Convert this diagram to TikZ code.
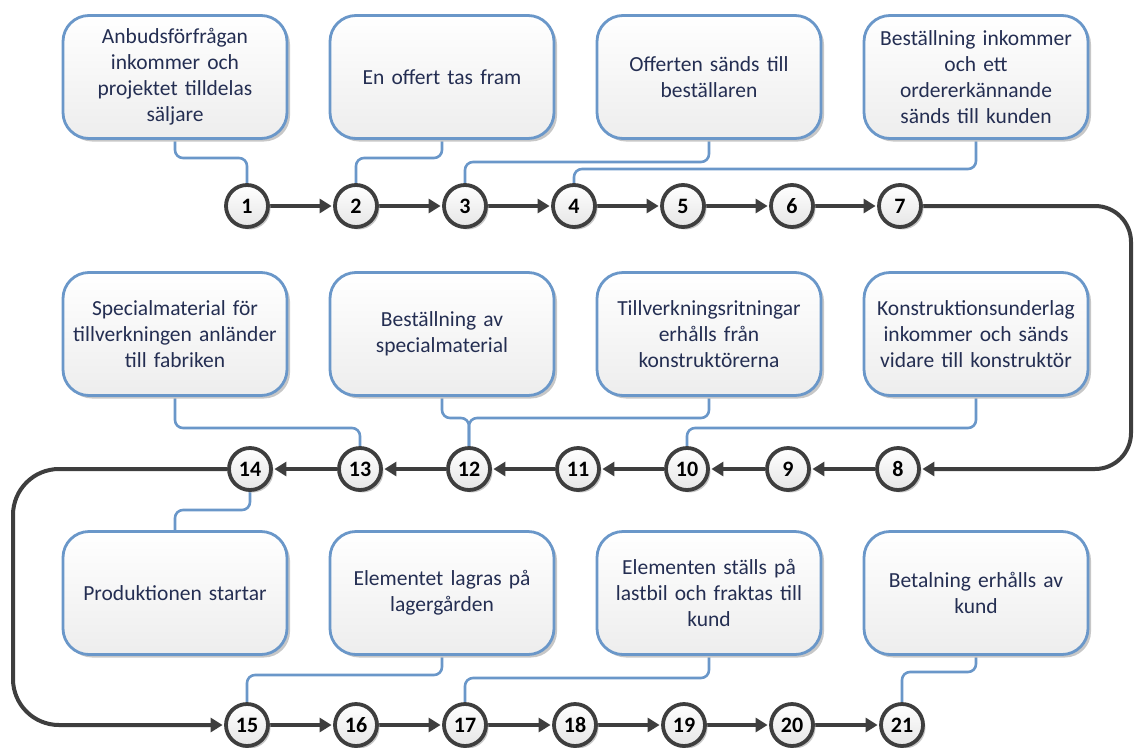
\documentclass[tikz,border=0pt]{standalone}
\usepackage{fontspec}
\setmainfont{Carlito}
\usetikzlibrary{arrows.meta,shadows,backgrounds}

\definecolor{boxblue}{RGB}{106,151,201}
\definecolor{boxtext}{RGB}{36,46,82}
\definecolor{flowgray}{RGB}{62,62,62}

\begin{document}
\begin{tikzpicture}[x=1pt,y=-1pt,
  stage/.style={draw=boxblue, line width=2.8pt, rounded corners=26pt,
    top color=white, bottom color=black!7,
    minimum width=224pt, minimum height=123pt, text width=215pt, align=center,
    font=\fontsize{21.5}{26}\selectfont, text=boxtext,
    drop shadow={shadow xshift=3pt, shadow yshift=-3pt, fill=black!22, opacity=1}},
  stepnode/.style={circle, draw=flowgray, line width=3.8pt, minimum size=42pt, inner sep=0pt,
    top color=white, bottom color=black!10,
    font=\fontsize{22}{22}\selectfont\bfseries, text=black,
    drop shadow={shadow xshift=2.5pt, shadow yshift=-2.5pt, fill=black!22, opacity=1}},
  flow/.style={line width=4pt, draw=flowgray, -{Triangle[length=12pt,width=14pt]}, shorten >=1.5pt},
  link/.style={draw=boxblue, line width=2.6pt, rounded corners=8pt}]

\useasboundingbox (0,0) rectangle (1134,747);

% process steps
\foreach \i/\x in {1/247,2/356,3/465,4/574,5/683,6/792,7/900}
  \node[stepnode] (c\i) at (\x,206) {\i};
\foreach \i/\x in {8/898,9/788,10/687,11/578,12/469,13/360,14/250}
  \node[stepnode] (c\i) at (\x,469) {\i};
\foreach \i/\x in {15/247,16/356,17/465,18/575,19/684,20/792,21/902}
  \node[stepnode] (c\i) at (\x,725) {\i};

% descriptions
\node[stage] (b1) at (175,77) {Anbudsförfrågan\\inkommer och\\projektet tilldelas\\säljare};
\node[stage] (b2) at (442,77) {En offert tas fram};
\node[stage] (b3) at (709,77) {Offerten sänds till\\beställaren};
\node[stage] (b4) at (976,77) {Beställning inkommer\\och ett\\ordererkännande\\sänds till kunden};

\node[stage] (b5) at (175,334) {Specialmaterial för\\tillverkningen anländer\\till fabriken};
\node[stage] (b6) at (442,334) {Beställning av\\specialmaterial};
\node[stage] (b7) at (709,334) {Tillverkningsritningar\\erhålls från\\konstruktörerna};
\node[stage] (b8) at (976,334) {Konstruktionsunderlag\\inkommer och sänds\\vidare till konstruktör};

\node[stage] (b9) at (175,593) {Produktionen startar};
\node[stage] (b10) at (442,593) {Elementet lagras på\\lagergården};
\node[stage] (b11) at (709,593) {Elementen ställs på\\lastbil och fraktas till\\kund};
\node[stage] (b12) at (976,593) {Betalning erhålls av\\kund};

\begin{pgfonlayer}{background}
  % flow between steps
  \foreach \a/\b in {1/2,2/3,3/4,4/5,5/6,6/7,8/9,9/10,10/11,11/12,12/13,13/14,15/16,16/17,17/18,18/19,19/20,20/21}
    \draw[flow] (c\a) -- (c\b);
  \draw[flow, rounded corners=36pt] (c7.east) -- (1131,206) -- (1131,469) -- (c8.east);
  \draw[flow, rounded corners=46pt] (c14.west) -- (13,469) -- (13,725) -- (c15.west);

  % links from descriptions to steps
  \draw[link] (b1.south) -- (b1.south |- 0,158) -| (c1.north);
  \draw[link] (b2.south) -- (b2.south |- 0,158) -| (c2.north);
  \draw[link] (b3.south) -- (b3.south |- 0,162) -| (c3.north);
  \draw[link] (b4.south) -- (b4.south |- 0,169) -| (c4.north);

  \draw[link] (b5.south) -- (b5.south |- 0,428) -| (c13.north);
  \draw[link] (b6.south) -- (b6.south |- 0,418) -| (c12.north);
  \draw[link] (b7.south) -- (b7.south |- 0,418) -| (c12.north);
  \draw[link] (b8.south) -- (b8.south |- 0,428) -| (c10.north);

  \draw[link] (b9.north) -- (b9.north |- 0,510) -| (c14.south);
  \draw[link] (b10.south) -- (b10.south |- 0,675) -| (c15.north);
  \draw[link] (b11.south) -- (b11.south |- 0,678) -| (c17.north);
  \draw[link] (b12.south) -- (b12.south |- 0,672) -| (c21.north);
\end{pgfonlayer}
\end{tikzpicture}
\end{document}
